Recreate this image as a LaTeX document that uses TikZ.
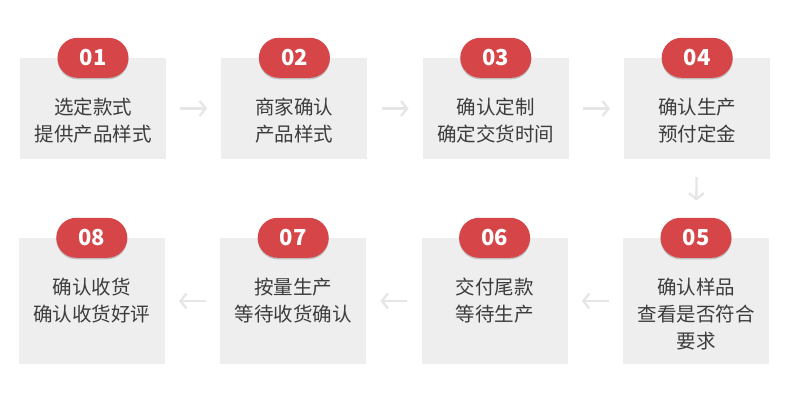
\documentclass[tikz,border=0pt]{standalone}
\usepackage{fontspec}
\setmainfont{Noto Sans CJK SC}
\usetikzlibrary{positioning,arrows.meta,shadows}
\definecolor{BadgeRed}{RGB}{214,69,72}
\definecolor{BoxGray}{RGB}{238,238,238}
\definecolor{ArrowGray}{RGB}{230,230,230}
\definecolor{TextGray}{RGB}{60,60,60}

\tikzset{
  stepbox/.style={fill=BoxGray, minimum width=146pt, inner sep=0pt},
  badge/.style={fill=BadgeRed, rounded corners=20pt, minimum width=71pt, minimum height=40pt, inner sep=0pt,
    text=white, font=\bfseries\fontsize{22}{22}\selectfont,
    drop shadow={shadow xshift=0pt, shadow yshift=-1.5pt, opacity=0.2, fill=black}},
  steptext/.style={inner sep=0pt, text=TextGray, align=center, font=\fontsize{19.5}{27}\selectfont},
  flow/.style={-{Straight Barb[length=6pt,width=15pt]}, line width=2.4pt, ArrowGray}
}

\begin{document}
\begin{tikzpicture}[x=1pt, y=-1pt, node distance=55pt]
  \useasboundingbox (0,0) rectangle (790,402);
  % top row
  \node[stepbox, minimum height=101pt] (b1) at (93,108.5) {};
  \node[stepbox, minimum height=101pt, right=of b1] (b2) {};
  \node[stepbox, minimum height=101pt, right=of b2] (b3) {};
  \node[stepbox, minimum height=101pt, right=of b3] (b4) {};
  % bottom row, right to left
  \node[stepbox, minimum height=126pt] (b5) at (696,301) {};
  \node[stepbox, minimum height=126pt, left=of b5] (b6) {};
  \node[stepbox, minimum height=126pt, left=of b6] (b7) {};
  \node[stepbox, minimum height=126pt, left=of b7] (b8) {};
  % badges
  \node[badge] (n1) at (b1.north) {01};
  \node[badge] (n2) at (b2.north) {02};
  \node[badge] (n3) at (b3.north) {03};
  \node[badge] (n4) at (b4.north) {04};
  \node[badge] (n5) at (b5.north) {05};
  \node[badge] (n6) at (b6.north) {06};
  \node[badge] (n7) at (b7.north) {07};
  \node[badge] (n8) at (b8.north) {08};
  % step texts
  \node[steptext, below=19.5pt of n1] (t1) {选定款式\\提供产品样式};
  \node[steptext, below=19.5pt of n2] (t2) {商家确认\\产品样式};
  \node[steptext, below=19.5pt of n3] (t3) {确认定制\\确定交货时间};
  \node[steptext, below=19.5pt of n4] (t4) {确认生产\\预付定金};
  \node[steptext, below=19.5pt of n5] (t5) {确认样品\\查看是否符合\\要求};
  \node[steptext, below=19.5pt of n6] (t6) {交付尾款\\等待生产};
  \node[steptext, below=19.5pt of n7] (t7) {按量生产\\等待收货确认};
  \node[steptext, below=19.5pt of n8] (t8) {确认收货\\确认收货好评};
  % arrows
  \draw[flow, shorten <=14pt, shorten >=14pt] (b1) -- (b2);
  \draw[flow, shorten <=14pt, shorten >=14pt] (b2) -- (b3);
  \draw[flow, shorten <=14pt, shorten >=14pt] (b3) -- (b4);
  \draw[flow, shorten <=18pt, shorten >=17pt] (b4) -- (n5);
  \draw[flow, shorten <=14pt, shorten >=14pt] (b5) -- (b6);
  \draw[flow, shorten <=14pt, shorten >=14pt] (b6) -- (b7);
  \draw[flow, shorten <=14pt, shorten >=14pt] (b7) -- (b8);
\end{tikzpicture}
\end{document}
